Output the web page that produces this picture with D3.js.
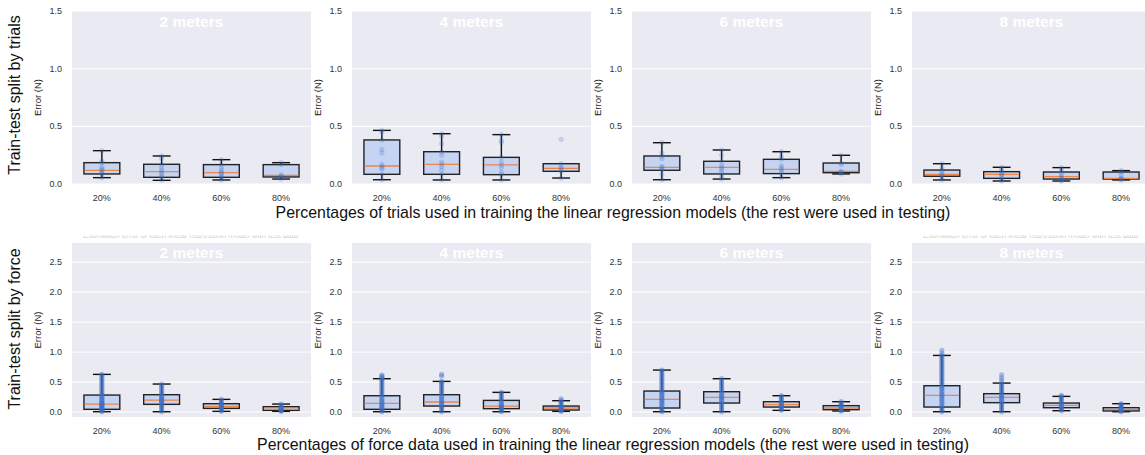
<!DOCTYPE html>
<html>
<head>
<meta charset="utf-8">
<script src="https://cdn.jsdelivr.net/npm/d3@7"></script>
<style>
  body { margin: 0; background: #fff; }
  svg { display: block; font-family: "Liberation Sans", Arial, sans-serif; }
</style>
</head>
<body>
<div id="chart"></div>
<script>
const distances = ["2 meters", "4 meters", "6 meters", "8 meters"];
const percents = ["20%", "40%", "60%", "80%"];

// box stats per distance, per percent: [whiskerLow, q1, median, q3, whiskerHigh]
const trialsStats = [
  [[0.055, 0.087, 0.119, 0.185, 0.289], [0.032, 0.058, 0.107, 0.171, 0.243], [0.035, 0.058, 0.098, 0.168, 0.211], [0.043, 0.061, 0.075, 0.168, 0.185]],
  [[0.037, 0.084, 0.156, 0.382, 0.465], [0.035, 0.084, 0.171, 0.280, 0.436], [0.035, 0.081, 0.165, 0.231, 0.428], [0.052, 0.110, 0.136, 0.176, 0.176]],
  [[0.037, 0.119, 0.145, 0.243, 0.358], [0.043, 0.087, 0.145, 0.197, 0.295], [0.055, 0.090, 0.127, 0.214, 0.280], [0.087, 0.098, 0.110, 0.182, 0.249]],
  [[0.035, 0.067, 0.084, 0.121, 0.176], [0.026, 0.049, 0.084, 0.107, 0.145], [0.026, 0.043, 0.064, 0.104, 0.142], [0.035, 0.043, 0.049, 0.104, 0.116]]
];
const trialsPoints = [
  [[0.289, 0.2, 0.185, 0.15, 0.13, 0.12, 0.11, 0.09, 0.087, 0.055],
   [0.243, 0.22, 0.171, 0.15, 0.12, 0.107, 0.09, 0.07, 0.058, 0.032],
   [0.211, 0.168, 0.14, 0.12, 0.1, 0.096, 0.08, 0.06, 0.058, 0.035],
   [0.185, 0.168, 0.08, 0.07, 0.061, 0.043]],
  [[0.465, 0.45, 0.382, 0.30, 0.27, 0.17, 0.156, 0.14, 0.13, 0.084, 0.037],
   [0.436, 0.41, 0.35, 0.28, 0.25, 0.19, 0.171, 0.15, 0.12, 0.084, 0.035],
   [0.428, 0.38, 0.36, 0.231, 0.19, 0.165, 0.14, 0.10, 0.081, 0.035],
   [0.387, 0.176, 0.15, 0.136, 0.12, 0.110, 0.052]],
  [[0.358, 0.27, 0.243, 0.22, 0.15, 0.145, 0.13, 0.119, 0.08, 0.037],
   [0.295, 0.25, 0.197, 0.16, 0.145, 0.13, 0.11, 0.087, 0.06, 0.043],
   [0.28, 0.24, 0.214, 0.16, 0.14, 0.127, 0.11, 0.09, 0.055],
   [0.249, 0.182, 0.17, 0.11, 0.105, 0.098, 0.087]],
  [[0.176, 0.14, 0.121, 0.1, 0.084, 0.075, 0.067, 0.05, 0.035],
   [0.145, 0.13, 0.107, 0.09, 0.084, 0.07, 0.049, 0.035, 0.026],
   [0.142, 0.12, 0.104, 0.08, 0.064, 0.05, 0.043, 0.03, 0.026],
   [0.116, 0.104, 0.08, 0.049, 0.045, 0.043, 0.035]]
];

const forceStats = [
  [[0.005, 0.045, 0.133, 0.283, 0.628], [0.005, 0.128, 0.200, 0.289, 0.467], [0.011, 0.061, 0.094, 0.139, 0.211], [0.011, 0.028, 0.050, 0.089, 0.133]],
  [[0.005, 0.045, 0.144, 0.272, 0.556], [0.005, 0.100, 0.167, 0.289, 0.511], [0.005, 0.056, 0.100, 0.194, 0.328], [0.011, 0.033, 0.067, 0.100, 0.189]],
  [[0.005, 0.067, 0.211, 0.350, 0.700], [0.005, 0.150, 0.244, 0.339, 0.556], [0.028, 0.083, 0.122, 0.172, 0.272], [0.017, 0.039, 0.067, 0.106, 0.172]],
  [[0.005, 0.083, 0.278, 0.439, 0.944], [0.005, 0.156, 0.244, 0.306, 0.483], [0.022, 0.072, 0.111, 0.150, 0.261], [0.005, 0.017, 0.044, 0.072, 0.139]]
];
const forcePoints = [
  [[0.005, 0.02, 0.035, 0.045, 0.06, 0.075, 0.09, 0.1, 0.11, 0.12, 0.133, 0.145, 0.16, 0.175, 0.19, 0.21, 0.23, 0.25, 0.27, 0.283, 0.31, 0.34, 0.37, 0.4, 0.43, 0.46, 0.49, 0.52, 0.55, 0.58, 0.61, 0.628],
   [0.005, 0.03, 0.06, 0.09, 0.11, 0.128, 0.15, 0.17, 0.19, 0.2, 0.21, 0.23, 0.25, 0.27, 0.289, 0.32, 0.35, 0.38, 0.41, 0.44, 0.467],
   [0.011, 0.03, 0.05, 0.061, 0.075, 0.085, 0.094, 0.105, 0.12, 0.139, 0.16, 0.185, 0.211],
   [0.011, 0.02, 0.028, 0.04, 0.05, 0.06, 0.075, 0.089, 0.11, 0.133]],
  [[0.005, 0.025, 0.045, 0.065, 0.085, 0.1, 0.12, 0.144, 0.165, 0.19, 0.215, 0.24, 0.272, 0.3, 0.33, 0.36, 0.39, 0.42, 0.45, 0.48, 0.51, 0.54, 0.556, 0.58, 0.6, 0.617],
   [0.005, 0.03, 0.06, 0.08, 0.1, 0.12, 0.14, 0.167, 0.19, 0.21, 0.24, 0.265, 0.289, 0.32, 0.35, 0.38, 0.41, 0.44, 0.47, 0.49, 0.511, 0.6, 0.63],
   [0.005, 0.025, 0.045, 0.056, 0.07, 0.085, 0.1, 0.12, 0.14, 0.165, 0.194, 0.22, 0.25, 0.28, 0.31, 0.328],
   [0.011, 0.022, 0.033, 0.045, 0.055, 0.067, 0.08, 0.1, 0.125, 0.15, 0.17, 0.189, 0.22]],
  [[0.005, 0.025, 0.045, 0.067, 0.09, 0.115, 0.14, 0.165, 0.19, 0.211, 0.235, 0.26, 0.285, 0.31, 0.33, 0.35, 0.38, 0.41, 0.44, 0.47, 0.5, 0.53, 0.56, 0.59, 0.62, 0.65, 0.68, 0.7],
   [0.005, 0.035, 0.065, 0.095, 0.125, 0.15, 0.175, 0.2, 0.22, 0.244, 0.265, 0.29, 0.315, 0.339, 0.37, 0.4, 0.43, 0.46, 0.49, 0.52, 0.556],
   [0.028, 0.045, 0.065, 0.083, 0.1, 0.122, 0.14, 0.155, 0.172, 0.2, 0.225, 0.25, 0.272],
   [0.017, 0.028, 0.039, 0.05, 0.067, 0.085, 0.106, 0.13, 0.15, 0.172]],
  [[0.005, 0.03, 0.055, 0.083, 0.11, 0.14, 0.17, 0.2, 0.225, 0.25, 0.278, 0.3, 0.33, 0.36, 0.39, 0.415, 0.439, 0.47, 0.5, 0.53, 0.56, 0.59, 0.62, 0.65, 0.68, 0.71, 0.74, 0.77, 0.8, 0.83, 0.86, 0.89, 0.92, 0.944, 0.98, 1.03],
   [0.005, 0.035, 0.065, 0.095, 0.125, 0.156, 0.18, 0.2, 0.225, 0.244, 0.265, 0.285, 0.306, 0.33, 0.355, 0.38, 0.405, 0.43, 0.455, 0.483, 0.53, 0.57, 0.62],
   [0.022, 0.04, 0.055, 0.072, 0.09, 0.111, 0.13, 0.15, 0.175, 0.2, 0.225, 0.245, 0.261, 0.28],
   [0.005, 0.017, 0.03, 0.044, 0.058, 0.072, 0.09, 0.11, 0.125, 0.139]]
];

const trialsTicks = [0, 0.5, 1.0, 1.5];
const forceTicks = [0, 0.5, 1.0, 1.5, 2.0, 2.5];

const W = 1145, H = 455;
const panelX = [72, 352, 632, 912];
const panelW = 239;

const svg = d3.select("#chart").append("svg")
    .attr("width", W)
    .attr("height", H);

const defs = svg.append("defs");

function drawRow(cfg) {
    const y = d3.scaleLinear().domain(cfg.domain).range([cfg.bottom, cfg.top]);
    const x = d3.scaleBand().domain(percents).range([0, panelW]).padding(0);
    const bw = x.bandwidth();

    distances.forEach((dist, di) => {
        const g = svg.append("g").attr("transform", `translate(${panelX[di]},0)`);

        g.append("rect")
            .attr("x", 0).attr("y", cfg.top)
            .attr("width", panelW).attr("height", cfg.bottom - cfg.top)
            .attr("fill", "#eaeaf2");

        g.selectAll(".grid")
            .data(cfg.ticks)
            .enter().append("line")
            .attr("x1", 0).attr("x2", panelW)
            .attr("y1", d => y(d)).attr("y2", d => y(d))
            .attr("stroke", "#fff").attr("stroke-width", 1);

        g.selectAll(".ytick")
            .data(cfg.ticks)
            .enter().append("text")
            .attr("x", -10)
            .attr("y", d => y(d))
            .attr("dy", "0.34em")
            .attr("text-anchor", "end")
            .style("font-size", "9px")
            .attr("fill", "#333")
            .text(d => d.toFixed(1));

        g.append("text")
            .attr("transform", `translate(-31,${(cfg.top + cfg.bottom) / 2}) rotate(-90)`)
            .attr("text-anchor", "middle")
            .style("font-size", "9.5px")
            .attr("fill", "#222")
            .text("Error (N)");

        g.selectAll(".xtick")
            .data(percents)
            .enter().append("text")
            .attr("x", d => x(d) + bw / 2)
            .attr("y", cfg.bottom + 17)
            .attr("text-anchor", "middle")
            .style("font-size", "9px")
            .attr("fill", "#333")
            .text(d => d);

        const boxW = bw * 0.6, capW = bw * 0.3;
        percents.forEach((p, pi) => {
            const s = cfg.stats[di][pi];
            const cx = x(p) + bw / 2;
            const bg = g.append("g");
            bg.append("line")
                .attr("x1", cx).attr("x2", cx)
                .attr("y1", y(s[0])).attr("y2", y(s[1]))
                .attr("stroke", "#111").attr("stroke-width", 1.4);
            bg.append("line")
                .attr("x1", cx).attr("x2", cx)
                .attr("y1", y(s[3])).attr("y2", y(s[4]))
                .attr("stroke", "#111").attr("stroke-width", 1.4);
            [s[0], s[4]].forEach(v => {
                bg.append("line")
                    .attr("x1", cx - capW / 2).attr("x2", cx + capW / 2)
                    .attr("y1", y(v)).attr("y2", y(v))
                    .attr("stroke", "#111").attr("stroke-width", 1.4);
            });
            bg.append("rect")
                .attr("x", cx - boxW / 2)
                .attr("y", y(s[3]))
                .attr("width", boxW)
                .attr("height", Math.max(0.5, y(s[1]) - y(s[3])))
                .attr("fill", "#c4d4f2")
                .attr("stroke", "#222").attr("stroke-width", 1.4);
            bg.append("line")
                .attr("x1", cx - boxW / 2 + 0.7).attr("x2", cx + boxW / 2 - 0.7)
                .attr("y1", y(s[2])).attr("y2", y(s[2]))
                .attr("stroke", "#ef8547").attr("stroke-width", 1.3);
            bg.selectAll("circle")
                .data(cfg.points[di][pi])
                .enter().append("circle")
                .attr("cx", cx)
                .attr("cy", d => y(d))
                .attr("r", 2.6)
                .attr("fill", "#3d6fc6")
                .attr("fill-opacity", cfg.pointOpacity);
        });

        g.append("text")
            .attr("x", panelW / 2)
            .attr("y", cfg.titleY)
            .attr("text-anchor", "middle")
            .style("font-size", "15.5px")
            .style("font-weight", "bold")
            .attr("fill", "#fff")
            .text(dist);
    });

    svg.append("text")
        .attr("transform", `translate(20,${cfg.rowLabelY}) rotate(-90)`)
        .attr("text-anchor", "middle")
        .style("font-size", "16px")
        .attr("fill", "#111")
        .text(cfg.rowLabel);

    svg.append("text")
        .attr("x", 613)
        .attr("y", cfg.xLabelY)
        .attr("text-anchor", "middle")
        .style("font-size", "15.9px")
        .attr("fill", "#111")
        .text(cfg.xLabel);
}

drawRow({
    domain: [0, 1.5], top: 11, bottom: 184, ticks: trialsTicks,
    stats: trialsStats, points: trialsPoints, pointOpacity: 0.22,
    titleY: 27, rowLabel: "Train-test split by trials", rowLabelY: 95,
    xLabel: "Percentages of trials used in training the linear regression models (the rest were used in testing)",
    xLabelY: 218
});

drawRow({
    domain: [-0.083, 2.82], top: 243, bottom: 417, ticks: forceTicks,
    stats: forceStats, points: forcePoints, pointOpacity: 0.4,
    titleY: 258, rowLabel: "Train-test split by force", rowLabelY: 329,
    xLabel: "Percentages of force data used in training the linear regression models (the rest were used in testing)",
    xLabelY: 450
});

// faint, mostly hidden subplot titles peeking above the lower row
defs.append("clipPath").attr("id", "peek")
    .append("rect").attr("x", 0).attr("y", 235.5).attr("width", W).attr("height", 3);
[[83, 215], [923, 215]].forEach(([x0, len]) => {
    svg.append("text")
        .attr("clip-path", "url(#peek)")
        .attr("x", x0)
        .attr("y", 238)
        .attr("textLength", len)
        .attr("lengthAdjust", "spacingAndGlyphs")
        .style("font-size", "9px")
        .attr("fill", "#cfcfcf")
        .text("Estimation error of each linear regression model with test data");
});
</script>
</body>
</html>
